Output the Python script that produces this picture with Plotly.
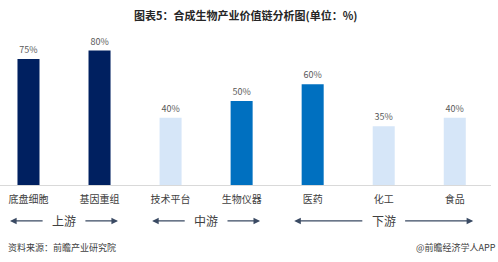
import plotly.graph_objects as go

categories = ["底盘细胞", "基因重组", "技术平台", "生物仪器", "医药", "化工", "食品"]
values = [75, 80, 40, 50, 60, 35, 40]
bar_colors = ["#002060", "#002060", "#D6E6F8", "#0070C0", "#0070C0", "#D6E6F8", "#D6E6F8"]
groups = [("上游", 0, 1), ("中游", 2, 3), ("下游", 4, 6)]

FONT = "Noto Sans CJK SC"
x_idx = list(range(len(categories)))

W, H = 498, 262
M = dict(l=0, r=7, t=30, b=77)
XR = [-0.401, 6.51]
px_per_unit = (W - M["l"] - M["r"]) / (XR[1] - XR[0])

fig = go.Figure()
fig.add_trace(go.Bar(
    x=x_idx, y=values,
    marker=dict(color=bar_colors, line=dict(width=0)),
    width=0.31,
    text=[f"{v}%" for v in values],
    textposition="outside",
    textfont=dict(size=9, color="#595959", family=FONT),
    cliponaxis=False,
))

annotations = []
arrow_y = -0.232
arrow_color = "#3A4A63"
for name, s, e in groups:
    mid = (s + e) / 2
    half = (e - s) / 2
    annotations.append(dict(x=mid, y=arrow_y, xref="x", yref="paper", text=name,
                            xanchor="center", yanchor="middle",
                            showarrow=False, font=dict(size=12, color="#404040", family=FONT)))
    for sign in (-1, 1):
        head = mid + sign * (half + 0.26)
        tail = mid + sign * 0.28
        annotations.append(dict(x=head, y=arrow_y, xref="x", yref="paper",
                                ax=(tail - head) * px_per_unit, ay=0, axref="pixel", ayref="pixel",
                                text="", showarrow=True, arrowhead=2, arrowsize=1.1,
                                arrowwidth=1.2, arrowcolor=arrow_color, standoff=0, startstandoff=0))

annotations.append(dict(x=0.5, y=1, xref="paper", yref="paper", xanchor="center", yanchor="top",
                        text="<b>图表5：合成生物产业价值链分析图(单位：%)</b>", showarrow=False,
                        yshift=25,
                        font=dict(size=11, color="#262626", family=FONT)))
annotations.append(dict(x=0.012, y=-0.405, xref="paper", yref="paper", xanchor="left", yanchor="middle",
                        text="资料来源：前瞻产业研究院", showarrow=False,
                        font=dict(size=9, color="#404040", family=FONT)))
annotations.append(dict(x=1.0, y=-0.405, xref="paper", yref="paper", xanchor="right", yanchor="middle",
                        xshift=7,
                        text="@前瞻经济学人APP", showarrow=False,
                        font=dict(size=9, color="#404040", family=FONT)))

fig.update_layout(
    width=W, height=H,
    margin=M,
    paper_bgcolor="white", plot_bgcolor="white",
    showlegend=False,
    annotations=annotations,
    xaxis=dict(
        range=XR,
        tickmode="array", tickvals=x_idx, ticktext=categories,
        tickfont=dict(size=10, color="#404040", family=FONT),
        ticklabelstandoff=5,
        showline=True, linecolor="#D9D9D9", linewidth=1,
        showgrid=False, zeroline=False, ticks="", fixedrange=True,
    ),
    yaxis=dict(range=[0, 92.2], visible=False, showgrid=False, zeroline=False),
)

fig.write_html("out.html")
